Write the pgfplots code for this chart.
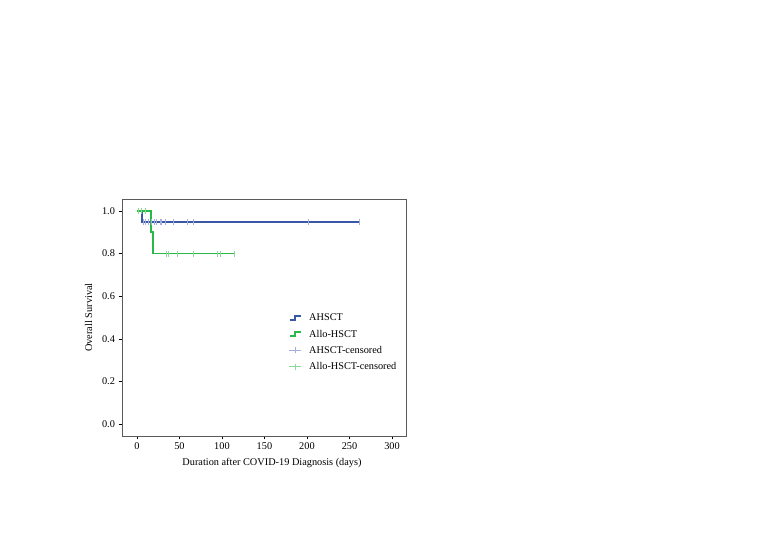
\documentclass[border=0pt]{standalone}
\usepackage{pgfplots}
\pgfplotsset{compat=1.18}
\usepackage{fontspec}
\setmainfont{Liberation Serif}
\definecolor{kmblue}{RGB}{58,88,168}
\definecolor{kmgreen}{RGB}{40,185,70}
\definecolor{cblue}{RGB}{165,175,222}
\definecolor{cgreen}{RGB}{140,215,150}
\definecolor{framegray}{RGB}{90,90,90}

\pgfplotsset{
  stepicon/.style={legend image code/.code={
    \path[draw=none,fill=none] (0pt,0pt) -- (19pt,0pt);
    \draw[##1] (1pt,-2pt) -- (6.5pt,-2pt) -- (6.5pt,2pt) -- (12pt,2pt);}},
  plusicon/.style={legend image code/.code={
    \path[draw=none,fill=none] (0pt,0pt) -- (19pt,0pt);
    \draw[##1] (0pt,0pt) -- (12pt,0pt) (6pt,-3pt) -- (6pt,3pt);}},
}

\begin{document}
\begin{tikzpicture}
\useasboundingbox[fill=white] (0,0) rectangle (778pt,548pt);
\begin{axis}[
  at={(122pt,112pt)}, anchor=south west,
  scale only axis, width=284pt, height=237pt,
  xmin=-17.6, xmax=316.5,
  ymin=-0.056, ymax=1.056,
  xtick={0,50,...,300},
  ytick={0,0.2,0.4,0.6,0.8,1.0},
  yticklabel style={/pgf/number format/.cd,fixed,fixed zerofill,precision=1},
  /pgf/number format/assume math mode=true,
  tick align=outside, tick pos=left,
  major tick length=3.5pt,
  axis line style={framegray},
  every tick/.style={black},
  font=\fontsize{10.3pt}{12pt}\selectfont,
  xlabel={Duration after COVID-19 Diagnosis (days)},
  ylabel={Overall Survival},
  xlabel style={yshift=-1pt, xshift=8pt},
  ylabel style={yshift=3pt},
  legend style={at={(0.575,0.53)}, anchor=north west, draw=none, fill=none,
    row sep=4.5pt, font=\fontsize{10.3pt}{12pt}\selectfont,
    nodes={inner sep=1.5pt}},
  legend cell align=left,
]
% AHSCT
\addplot[const plot, kmblue, line width=1.5pt, stepicon] coordinates {
  (0,1) (6,0.947) (262,0.947)
};
\addlegendentry{AHSCT}
% Allo-HSCT
\addplot[const plot, kmgreen, line width=1.5pt, stepicon] coordinates {
  (0,1) (16.5,0.9) (19,0.8) (115,0.8)
};
\addlegendentry{Allo-HSCT}
% censored
\addplot[only marks, mark=|, mark size=3pt, cblue, mark options={line width=0.6pt}, plusicon] coordinates {
  (7.4,0.947) (10.2,0.947) (13.3,0.947) (17.3,0.947) (20,0.947) (23.2,0.947)
  (27,0.947) (29,0.947) (33,0.947) (42.7,0.947) (59,0.947) (66,0.947)
  (201,0.947) (262,0.947)
};
\addlegendentry{AHSCT-censored}
\addplot[only marks, mark=|, mark size=3pt, cgreen, mark options={line width=0.6pt}, plusicon] coordinates {
  (1.5,1) (5.5,1) (9.4,1)
  (35,0.8) (37,0.8) (47,0.8) (66,0.8) (94,0.8) (98,0.8) (115,0.8)
};
\addlegendentry{Allo-HSCT-censored}
\end{axis}
\end{tikzpicture}
\end{document}
